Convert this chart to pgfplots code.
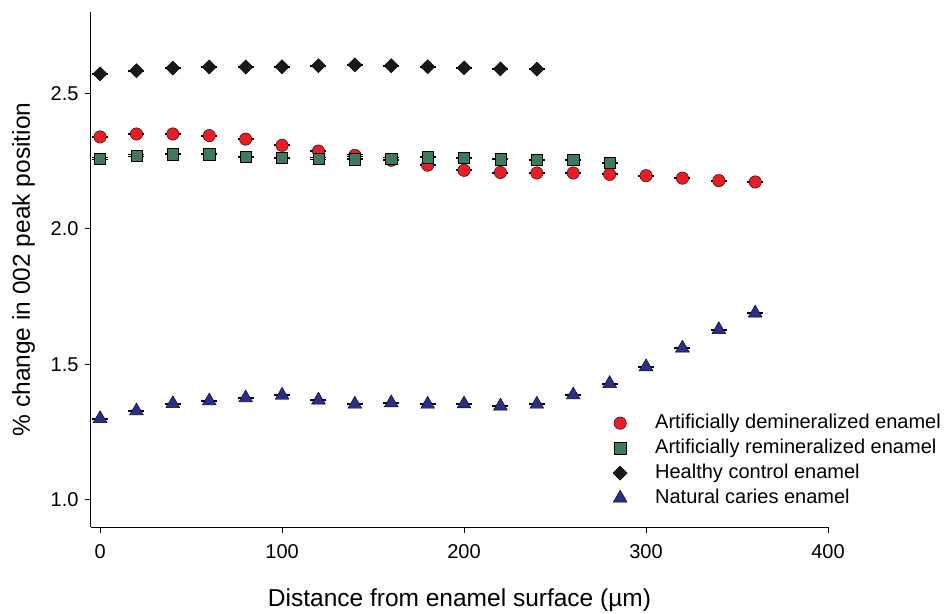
\documentclass[border=0pt]{standalone}
\usepackage{fontspec}
\setmainfont{Liberation Sans}
\usepackage{pgfplots}
\pgfplotsset{compat=1.18}
\definecolor{cred}{RGB}{237,28,36}
\definecolor{cgreen}{RGB}{63,122,90}
\definecolor{cblue}{RGB}{43,45,140}
\definecolor{cblack}{RGB}{25,25,25}
\begin{document}
\begin{tikzpicture}
\useasboundingbox (-91pt,-86pt) rectangle (858pt,527pt);
\begin{axis}[
  scale only axis, width=737pt, height=515pt,
  xmin=-5, xmax=400, ymin=0.9, ymax=2.8,
  axis x line*=bottom, axis y line*=left,
  axis line style={line width=1pt, -},
  xtick={0,100,200,300,400}, ytick={1.0,1.5,2.0,2.5},
  tick align=outside, major tick length=6pt,
  tick style={line width=1pt, black},
  /pgf/number format/assume math mode=true,
  yticklabel style={/pgf/number format/fixed, /pgf/number format/fixed zerofill, /pgf/number format/precision=1, xshift=-3pt},
  tick label style={font=\fontsize{20}{24}\selectfont},
  xticklabel style={yshift=-8pt},
  label style={font=\fontsize{24.5}{29}\selectfont},
  xlabel={Distance from enamel surface (µm)},
  ylabel={\% change in 002 peak position},
  xlabel style={at={(axis description cs:0.5,-0.142)}, anchor=center},
  ylabel style={at={(axis description cs:-0.0916,0.5)}, anchor=center},
  legend style={at={(rel axis cs:0.7069,0.2215)}, anchor=north west, draw=none, fill=none,
    inner sep=0pt, font=\fontsize{20}{24}\selectfont, row sep=5pt,
    nodes={inner sep=0pt, text height=15pt, text depth=5pt}},
  legend cell align=left,
  legend image code/.code={\path[draw=none,fill=none] (0pt,0pt) -- (43pt,0pt); \draw[#1] plot coordinates {(8pt,0pt)};},
  every axis plot/.append style={only marks, mark options={draw=black, line width=0.8pt},
    /pgfplots/error bars/y dir=both, /pgfplots/error bars/y fixed=0.002,
    /pgfplots/error bars/error mark options={rotate=90, mark size=8pt, black, line width=0.8pt}},
]
\addplot[mark=*, mark size=6.2pt, mark options={fill=cred}] coordinates {
(0,2.339) (20,2.350) (40,2.350) (60,2.344) (80,2.331) (100,2.308) (120,2.287) (140,2.271)
(160,2.253) (180,2.235) (200,2.216) (220,2.208) (240,2.206) (260,2.206) (280,2.201)
(300,2.196) (320,2.187) (340,2.178) (360,2.173)};
\addlegendentry{Artificially demineralized enamel}
\addplot[mark=square*, mark size=5.6pt, mark options={fill=cgreen}] coordinates {
(0,2.260) (20,2.271) (40,2.275) (60,2.275) (80,2.267) (100,2.262) (120,2.260) (140,2.257)
(160,2.260) (180,2.264) (200,2.262) (220,2.257) (240,2.254) (260,2.254) (280,2.244)};
\addlegendentry{Artificially remineralized enamel}
\addplot[mark=square*, mark size=5pt, mark options={fill=cblack, rotate=45}] coordinates {
(0,2.572) (20,2.583) (40,2.593) (60,2.597) (80,2.597) (100,2.598) (120,2.602) (140,2.605)
(160,2.602) (180,2.598) (200,2.594) (220,2.590) (240,2.589)};
\addlegendentry{Healthy control enamel}
\addplot[mark=triangle*, mark size=8pt, mark options={fill=cblue}] coordinates {
(0,1.300) (20,1.328) (40,1.355) (60,1.365) (80,1.376) (100,1.386) (120,1.368) (140,1.353)
(160,1.358) (180,1.353) (200,1.354) (220,1.346) (240,1.353) (260,1.387) (280,1.429)
(300,1.491) (320,1.560) (340,1.628) (360,1.689)};
\addlegendentry{Natural caries enamel}
\end{axis}
\end{tikzpicture}
\end{document}
